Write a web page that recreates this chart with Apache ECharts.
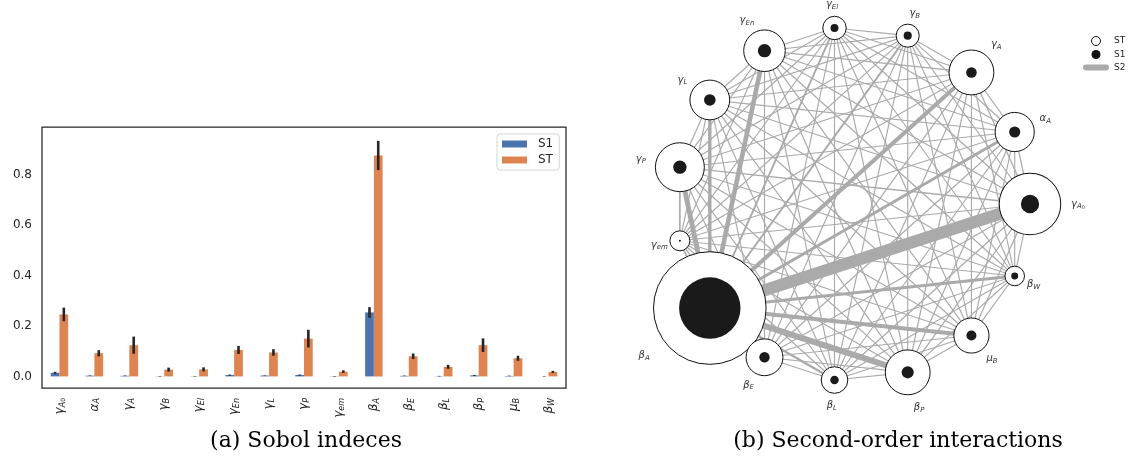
<!DOCTYPE html>
<html><head><meta charset="utf-8">
<script src="https://cdn.jsdelivr.net/npm/echarts@6/dist/echarts.min.js"></script>
<style>html,body{margin:0;padding:0;background:#fff}#c{width:1131px;height:466px}</style>
</head><body><div id="c"></div>
<script>
// ---- data ----
const categories = ['γA0','αA','γA','γB','γEl','γEn','γL','γP','γem','βA','βE','βL','βP','μB','βW'];
const greek   = ['γ','α','γ','γ','γ','γ','γ','γ','γ','β','β','β','β','μ','β'];
const subs    = ['A','A','A','B','El','En','L','P','em','A','E','L','P','B','W'];
const subSubs = ['0','','','','','','','','','','','','','',''];

const S1     = [0.014, 0.003, 0.0025, 0.0008, 0.0007, 0.0055, 0.0035, 0.0055, -0.001, 0.254, 0.0023, 0.001, 0.004, 0.002, 0.0003];
const S1_err = [0.004, 0.001, 0.001, 0.001, 0.001, 0.002, 0.001, 0.002, 0.001, 0.021, 0.001, 0.001, 0.002, 0.001, 0.001];
const ST     = [0.246, 0.092, 0.124, 0.027, 0.028, 0.105, 0.095, 0.150, 0.019, 0.877, 0.080, 0.038, 0.124, 0.072, 0.018];
const ST_err = [0.027, 0.012, 0.034, 0.008, 0.008, 0.016, 0.013, 0.035, 0.005, 0.058, 0.011, 0.008, 0.027, 0.010, 0.004];

// second-order indices, upper triangle: row i holds S2(i, j) for j = i+1 .. 14
const S2 = [
  [0.002, 0.003, 0.001, 0.001, 0.002, 0.002, 0.003, 0.001, 0.200, 0.002, 0.001, 0.003, 0.002, 0.001],
  [0.001, 0.001, 0.001, 0.001, 0.002, 0.001, 0.001, 0.036, 0.001, 0.001, 0.002, 0.001, 0.001],
  [0.001, 0.001, 0.002, 0.001, 0.001, 0.001, 0.055, 0.001, 0.001, 0.002, 0.001, 0.001],
  [0.001, 0.001, 0.001, 0.001, 0.001, 0.015, 0.001, 0.001, 0.001, 0.001, 0.001],
  [0.001, 0.001, 0.001, 0.001, 0.015, 0.001, 0.001, 0.001, 0.001, 0.001],
  [0.002, 0.001, 0.001, 0.064, 0.001, 0.001, 0.002, 0.001, 0.001],
  [0.002, 0.001, 0.042, 0.001, 0.001, 0.001, 0.001, 0.001],
  [0.010, 0.069, 0.001, 0.001, 0.002, 0.001, 0.001],
  [0.010, 0.001, 0.001, 0.001, 0.001, 0.001],
  [0.040, 0.020, 0.090, 0.055, 0.036],
  [0.001, 0.001, 0.001, 0.001],
  [0.001, 0.001, 0.001],
  [0.001, 0.001],
  [0.001]
];
const yTickValues = [0.0, 0.2, 0.4, 0.6, 0.8];

// ---- helpers ----
function richLabel(i) {
  return '{g|' + greek[i] + '}{s|' + subs[i] + '}' + (subSubs[i] ? '{ss|' + subSubs[i] + '}' : '');
}
const TXT = '#262626';
const axisRich = {
  g:  {fontFamily: 'DejaVu Sans', fontStyle: 'italic', fontSize: 12, color: TXT, lineHeight: 14},
  s:  {fontFamily: 'DejaVu Sans', fontStyle: 'italic', fontSize: 8, color: TXT, lineHeight: 6, verticalAlign: 'bottom'},
  ss: {fontFamily: 'DejaVu Sans', fontSize: 6, color: TXT, lineHeight: 3, verticalAlign: 'bottom'}
};
const netRich = {
  g:  {fontFamily: 'DejaVu Sans', fontStyle: 'italic', fontSize: 10, fill: '#333', lineHeight: 12},
  s:  {fontFamily: 'DejaVu Sans', fontStyle: 'italic', fontSize: 7, fill: '#333', lineHeight: 5, verticalAlign: 'bottom'},
  ss: {fontFamily: 'DejaVu Sans', fontSize: 5, fill: '#333', lineHeight: 2, verticalAlign: 'bottom'}
};
const stDiam = v => 116 * Math.sqrt(Math.max(v, 0)) + 4;
const s1Diam = v => v > 0 ? 112 * Math.sqrt(v) + 5 : 2;

function errorSeries(vals, errs, side) {
  return {
    type: 'custom', xAxisIndex: 0, yAxisIndex: 0, z: 5, silent: true,
    data: vals.map((v, i) => [i, v, errs[i]]),
    renderItem: (params, api) => {
      const i = api.value(0), v = api.value(1), e = api.value(2);
      const bw = api.size([1, 0])[0] * 0.25;
      const top = api.coord([i, v + e]), bot = api.coord([i, v - e]);
      const x = top[0] + side * bw / 2;
      return {type: 'line', shape: {x1: x, y1: top[1], x2: x, y2: bot[1]},
              style: {stroke: '#262626', lineWidth: 2.6}};
    }
  };
}

const edgeData = [];
S2.forEach((row, i) => row.forEach((v, k) => edgeData.push([i, i + 1 + k, v])));

const chart = echarts.init(document.getElementById('c'), null, {renderer: 'canvas'});
chart.setOption({
  animation: false,
  backgroundColor: '#fff',
  grid: {left: 42, top: 127, width: 524, height: 261, show: true, borderColor: '#262626',
         borderWidth: 1.25, containLabel: false, outerBoundsMode: 'none'},
  xAxis: {
    type: 'category', data: categories,
    axisLine: {show: false}, axisTick: {show: false}, splitLine: {show: false},
    axisLabel: {interval: 0, rotate: 90, margin: 10, formatter: (v, i) => richLabel(i), rich: axisRich}
  },
  yAxis: {
    type: 'value', min: -0.046, max: 0.99,
    axisLine: {show: false}, axisTick: {show: false}, splitLine: {show: false},
    axisLabel: {
      margin: 10, fontSize: 12, color: TXT, fontFamily: 'DejaVu Sans',
      showMinLabel: false, showMaxLabel: false,
      formatter: v => { const t = yTickValues.find(t => Math.abs(t - v) < 1e-6); return t === undefined ? '' : t.toFixed(1); }
    }
  },
  polar: {center: [853, 204], radius: 177},
  angleAxis: {type: 'value', min: 0, max: 15, startAngle: 0, clockwise: false, show: false,
              axisLine: {show: false}, axisTick: {show: false}, axisLabel: {show: false},
              splitLine: {show: false}, splitArea: {show: false}},
  radiusAxis: {type: 'value', min: 0, max: 1, show: false,
               axisLine: {show: false}, axisTick: {show: false}, axisLabel: {show: false},
               splitLine: {show: false}, splitArea: {show: false}},
  legend: [
    {
      data: [{name: 'S1'}, {name: 'ST'}], orient: 'vertical', left: 497, top: 134,
      selectedMode: false, icon: 'rect', itemWidth: 25, itemHeight: 7, itemGap: 4,
      padding: [4, 6, 4, 5], borderColor: '#d4d4d4', borderWidth: 1, borderRadius: 3,
      backgroundColor: 'rgba(255,255,255,0.8)',
      textStyle: {fontFamily: 'DejaVu Sans', fontSize: 12, color: TXT, padding: [0, 0, 0, 6]}
    },
    {
      data: [
        {name: 'ST ', icon: 'circle', itemStyle: {color: '#fff', borderColor: '#111', borderWidth: 1}},
        {name: 'S1 ', icon: 'circle', itemStyle: {color: '#111', borderWidth: 0}},
        {name: 'S2', icon: 'path://M3,0 L23,0 A3,3 0 0 1 23,6 L3,6 A3,3 0 0 1 3,0 Z', itemStyle: {color: '#aaaaaa', borderWidth: 0}}
      ],
      formatter: n => n.trim(),
      orient: 'vertical', left: 1083, top: 36, selectedMode: false,
      itemWidth: 26, itemHeight: 9, itemGap: 4, padding: 0,
      textStyle: {fontFamily: 'DejaVu Sans', fontSize: 9, color: TXT}
    }
  ],
  graphic: [
    {type: 'text', x: 306, y: 441, style: {text: '(a) Sobol indeces', font: '22px "DejaVu Serif"', fill: '#000', align: 'center', verticalAlign: 'middle'}},
    {type: 'text', x: 898, y: 441, style: {text: '(b) Second-order interactions', font: '22px "DejaVu Serif"', fill: '#000', align: 'center', verticalAlign: 'middle'}}
  ],
  series: [
    {name: 'S1', type: 'bar', data: S1, barWidth: '25%', barGap: '0%', itemStyle: {color: '#4c72b0'}, silent: true},
    {name: 'ST', type: 'bar', data: ST, barWidth: '25%', barGap: '0%', itemStyle: {color: '#dd8452'}, silent: true},
    errorSeries(S1, S1_err, -1),
    errorSeries(ST, ST_err, 1),
    {
      name: 'S2', type: 'custom', coordinateSystem: 'polar', polarIndex: 0, z: 1, silent: true,
      data: edgeData,
      itemStyle: {color: '#aaaaaa'},
      renderItem: (p, api) => {
        const a = api.coord([1, api.value(0)]), b = api.coord([1, api.value(1)]);
        return {type: 'line', shape: {x1: a[0], y1: a[1], x2: b[0], y2: b[1]},
                style: {stroke: '#aaaaaa', lineWidth: 1.1 + 55 * Math.max(api.value(2), 0)}};
      }
    },
    {
      name: 'ST ', type: 'scatter', coordinateSystem: 'polar', polarIndex: 0, z: 3, silent: true,
      data: ST.map((v, i) => [1, i, v]),
      symbol: 'circle', symbolSize: val => stDiam(val[2]),
      itemStyle: {color: '#fff', borderColor: '#111', borderWidth: 1, opacity: 1}
    },
    {
      name: 'S1 ', type: 'scatter', coordinateSystem: 'polar', polarIndex: 0, z: 4, silent: true,
      data: S1.map((v, i) => [1, i, v]),
      symbol: 'circle', symbolSize: val => s1Diam(val[2]),
      itemStyle: {color: '#1a1a1a', opacity: 1}
    },
    {
      type: 'custom', coordinateSystem: 'polar', polarIndex: 0, z: 5, silent: true,
      data: ST.map((v, i) => [1, i, v]),
      renderItem: (p, api) => {
        const i = api.value(1);
        const pt = api.coord([1, i]), c = api.coord([0, i]);
        const dx = pt[0] - c[0], dy = pt[1] - c[1], len = Math.hypot(dx, dy);
        const d = 1.3 * stDiam(api.value(2)) / 2 + 8;
        return {type: 'text', x: pt[0] + dx / len * d, y: pt[1] + dy / len * d,
                style: {text: richLabel(i), rich: netRich, align: 'center', verticalAlign: 'middle', fill: '#333'}};
      }
    }
  ]
});
</script>
</body></html>
